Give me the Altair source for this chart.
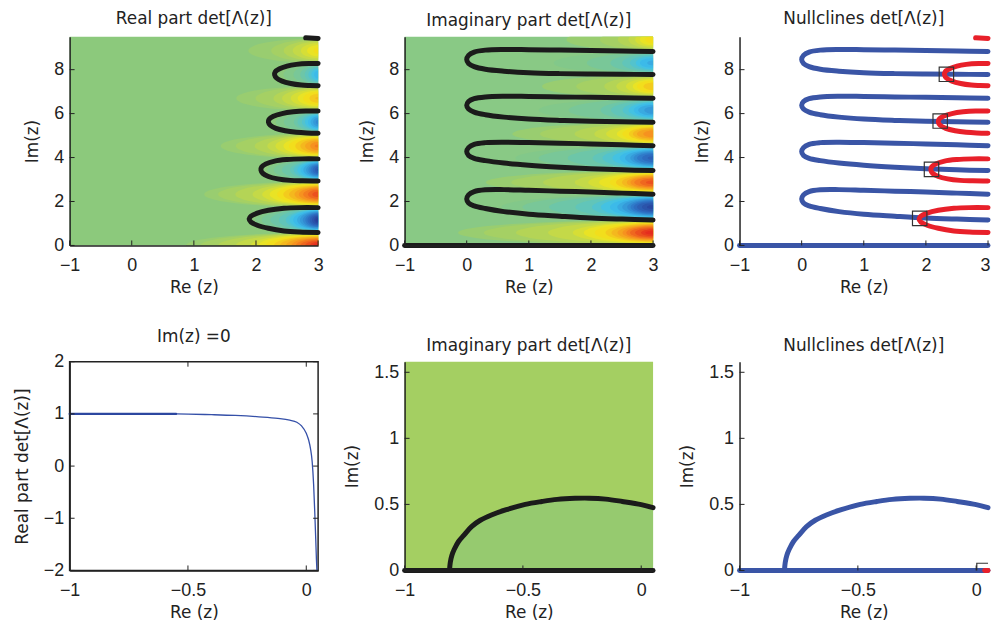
import altair as alt
import numpy as np
import pandas as pd

# ---------------- axes / text ----------------
TOP_X_DOMAIN = [-1, 3]
TOP_Y_DOMAIN = [0, 9.5]
TOP_X_TICKS = [-1, 0, 1, 2, 3]
TOP_Y_TICKS = [0, 2, 4, 6, 8]
BOT_X_DOMAIN = [-1, 0.05]
BOT_X_TICKS = [-1, -0.5, 0]
LINE_Y_DOMAIN = [-2, 2]
LINE_Y_TICKS = [-2, -1, 0, 1, 2]
BOT_Y_DOMAIN = [0, 1.58]
BOT_Y_TICKS = [0, 0.5, 1, 1.5]

TITLES = ["Real part det[Λ(z)]", "Imaginary part det[Λ(z)]", "Nullclines det[Λ(z)]",
          "Im(z) =0", "Imaginary part det[Λ(z)]", "Nullclines det[Λ(z)]"]
X_TITLE = "Re (z)"
Y_TITLE = "Im(z)"
LINE_Y_TITLE = "Real part det[Λ(z)]"

# ---------------- Re det = 0 contours (top row) ----------------
RE_A_X = [3.0, 2.7, 2.45, 2.2, 2.02, 1.92, 1.89, 1.92, 2.02, 2.2, 2.45, 2.7, 3.0]
RE_A_Y = [1.72, 1.72, 1.69, 1.6, 1.47, 1.33, 1.21, 1.06, 0.92, 0.78, 0.66, 0.61, 0.59]
RE_B_X = [3.0, 2.75, 2.5, 2.3, 2.16, 2.09, 2.08, 2.11, 2.2, 2.35, 2.55, 2.75, 3.0]
RE_B_Y = [3.94, 3.94, 3.91, 3.84, 3.71, 3.56, 3.43, 3.28, 3.14, 3.03, 2.96, 2.94, 2.93]
RE_C_X = [3.0, 2.8, 2.6, 2.42, 2.28, 2.21, 2.2, 2.23, 2.32, 2.47, 2.65, 2.82, 3.0]
RE_C_Y = [6.12, 6.12, 6.08, 6.0, 5.88, 5.74, 5.61, 5.47, 5.33, 5.22, 5.15, 5.12, 5.11]
RE_D_X = [3.0, 2.85, 2.65, 2.5, 2.38, 2.31, 2.3, 2.33, 2.42, 2.56, 2.73, 2.87, 3.0]
RE_D_Y = [8.28, 8.28, 8.24, 8.16, 8.04, 7.9, 7.76, 7.62, 7.48, 7.37, 7.3, 7.28, 7.27]
RE_E_X = [2.8, 3.0]
RE_E_Y = [9.45, 9.42]

# ---------------- Im det = 0 contours (top row) ----------------
IM_ZERO_X = [-1.0, 3.0]
IM_ZERO_Y = [0.0, 0.0]
IM_A_X = [3.0, 2.5, 2.0, 1.5, 1.0, 0.6, 0.3, 0.12, 0.03, 0.0, 0.03, 0.12, 0.3, 0.6, 1.0, 1.5, 2.0, 2.5, 3.0]
IM_A_Y = [2.33, 2.38, 2.43, 2.47, 2.51, 2.54, 2.53, 2.45, 2.3, 2.11, 1.93, 1.8, 1.68, 1.54, 1.42, 1.33, 1.25, 1.2, 1.16]
IM_B_X = [3.0, 2.5, 2.0, 1.5, 1.0, 0.6, 0.3, 0.12, 0.03, 0.0, 0.03, 0.12, 0.3, 0.6, 1.0, 1.5, 2.0, 2.5, 3.0]
IM_B_Y = [4.54, 4.58, 4.62, 4.65, 4.68, 4.7, 4.68, 4.6, 4.45, 4.27, 4.09, 3.96, 3.86, 3.75, 3.65, 3.56, 3.49, 3.44, 3.41]
IM_C_X = [3.0, 2.5, 2.0, 1.5, 1.0, 0.6, 0.3, 0.12, 0.03, 0.0, 0.03, 0.12, 0.3, 0.6, 1.0, 1.5, 2.0, 2.5, 3.0]
IM_C_Y = [6.7, 6.72, 6.74, 6.76, 6.78, 6.79, 6.76, 6.68, 6.55, 6.38, 6.21, 6.07, 5.95, 5.84, 5.75, 5.69, 5.65, 5.63, 5.61]
IM_D_X = [3.0, 2.5, 2.0, 1.5, 1.0, 0.6, 0.3, 0.12, 0.03, 0.0, 0.03, 0.12, 0.3, 0.6, 1.0, 1.5, 2.0, 2.5, 3.0]
IM_D_Y = [8.83, 8.85, 8.87, 8.89, 8.91, 8.92, 8.89, 8.8, 8.65, 8.46, 8.28, 8.14, 8.02, 7.93, 7.86, 7.82, 7.8, 7.79, 7.78]

# zeros of det (squares)
ZERO_TOP_X = [1.9, 2.09, 2.23, 2.33]
ZERO_TOP_Y = [1.23, 3.46, 5.66, 7.79]

# ---------------- heat-map blobs (top row) ----------------
RE_BLOB_Y = [0.0, 1.155, 2.325, 3.435, 4.525, 5.615, 6.695, 7.775, 8.865]
RE_BLOB_AMP = [1.0, -1.0, 0.9, -0.85, 0.72, -0.6, 0.5, -0.42, 0.38]
RE_BLOB_HALF = [0.59, 0.565, 0.6, 0.5, 0.59, 0.5, 0.58, 0.5, 0.58]
RE_BLOB_REACH = [0.7, 1.9, 1.0, 2.1, 1.25, 2.22, 1.45, 2.32, 1.6]
IM_BLOB_Y = [0.58, 1.745, 2.87, 3.975, 5.075, 6.155, 7.24, 8.305, 9.37]
IM_BLOB_AMP = [1.0, -0.95, 0.88, -0.8, 0.7, -0.55, 0.48, -0.45, 0.4]
IM_BLOB_HALF = [0.58, 0.585, 0.54, 0.565, 0.535, 0.545, 0.54, 0.525, 0.55]
IM_BLOB_REACH = [-0.45, 0.3, 0.0, 0.5, 0.4, 0.8, 0.8, 1.0, 1.2]

LEVELS = [0.03, 0.07, 0.12, 0.17, 0.23, 0.29, 0.35, 0.42, 0.49, 0.56, 0.63, 0.7, 0.77, 0.84, 0.91, 0.96]
G_R = [0, 0.1, 0.2, 0.4, 0.6, 0.8, 0.9, 1.0]
RE_G = [0, 0.25, 0.5, 0.68, 0.8, 0.89, 0.94, 0.98]
IM_G = [0, 0.3, 0.6, 0.77, 0.85, 0.9, 0.94, 0.98]
U_R = [0, 0.1, 0.3, 0.5, 0.7, 0.9, 1.0]
U_V = [1, 0.94, 0.81, 0.67, 0.51, 0.29, 0.05]
SHAPE_T = [0, 0.005, 0.02, 0.05, 0.1, 0.2, 0.35, 0.55, 0.8, 1.0, 1.08]
SHAPE_W = [0, 0.1, 0.2, 0.31, 0.44, 0.6, 0.76, 0.89, 0.98, 1.0, 1.0]

COLOR_VALUES = [-1, -0.667, -0.333, 0, 0.333, 0.667, 1]
COLOR_RANGE = ["#283A96", "#2E74C6", "#3DC1EC", "#8CC97C", "#F2E61C", "#F68B1F", "#E3231E"]

# ---------------- bottom row ----------------
LINE_X = [-1.0, -0.75, -0.55, -0.4, -0.3, -0.2, -0.12, -0.07, -0.04, -0.02, 0.0, 0.01, 0.018, 0.025,
          0.031, 0.036, 0.04, 0.043, 0.045]
LINE_Y = [1.0, 1.0, 1.0, 0.985, 0.97, 0.945, 0.915, 0.88, 0.84, 0.77, 0.63, 0.5, 0.33, 0.08,
          -0.35, -0.9, -1.4, -1.8, -2.0]
ARC_X = [-0.81, -0.807, -0.8, -0.79, -0.772, -0.75, -0.717, -0.68, -0.633, -0.57, -0.49, -0.42,
         -0.355, -0.28, -0.22, -0.15, -0.08, 0.0, 0.05]
ARC_Y = [0.0, 0.06, 0.115, 0.16, 0.219, 0.265, 0.332, 0.38, 0.42, 0.46, 0.5, 0.522,
         0.538, 0.546, 0.547, 0.54, 0.522, 0.498, 0.475]
BOT_ZERO_X = [-1.0, 0.05]
BOT_ZERO_Y = [0.0, 0.0]
RED_DOT_X = [0.036, 0.05]
RED_DOT_Y = [0.0, 0.0]
ZERO_BOT_X = [0.033]
ZERO_BOT_Y = [0.0]

BLACK = "#1b1b1b"
BLUE = "#3A55A6"
RED = "#E8202A"
AXC = "#222222"
W, H = 250, 210

CSCALE = alt.Scale(domain=COLOR_VALUES, range=COLOR_RANGE, interpolate="rgb")


def curves_df(curves):
    rows = []
    for name, xs_, ys_ in curves:
        for i, (x, y) in enumerate(zip(xs_, ys_)):
            rows.append({"curve": name, "i": i, "x": x, "y": y})
    return pd.DataFrame(rows)


def blobs_df(centers, amps, halves, reaches, gvals):
    rows = []
    for b, (yc, a, h, reach) in enumerate(zip(centers, amps, halves, reaches)):
        s = 1 if a > 0 else -1
        for k, v in enumerate(LEVELS):
            if v >= abs(a):
                continue
            r = v / abs(a)
            xl = reach + (3 - reach) * float(np.interp(r, G_R, gvals))
            hm = h * float(np.interp(r, U_R, U_V))
            for t, w in zip(SHAPE_T, SHAPE_W):
                x = xl + (3 - xl) * t
                rows.append({"blob": b, "level": k, "x": x, "lo": yc - hm * w,
                             "hi": yc + hm * w, "val": s * (v + 0.012)})
    return pd.DataFrame(rows)


def sc(dom):
    return alt.Scale(domain=dom, nice=False, zero=False)


def xaxis(values, domain=True, last_right=None):
    kw = {}
    if last_right is not None:
        kw["labelAlign"] = {"condition": {"test": "datum.value == %g" % last_right, "value": "right"},
                            "value": "center"}
        kw["labelOffset"] = {"condition": {"test": "datum.value == %g" % last_right, "value": 2},
                             "value": 0}
    return alt.Axis(title=X_TITLE, values=values, format="~g", ticks=False, grid=False,
                    labelPadding=11, titlePadding=5, domain=domain, zindex=1,
                    labelFlush=False, **kw)


def yaxis(values, title=Y_TITLE, domain=True):
    return alt.Axis(title=title, values=values, format="~g", ticks=False, grid=False,
                    labelPadding=6, titlePadding=12, domain=domain, zindex=1, labelFlush=False)


def bg(xdom, ydom, color, xs, ys, xax, yax):
    df = pd.DataFrame({"x0": [xdom[0]], "x1": [xdom[1]], "y0": [ydom[0]], "y1": [ydom[1]]})
    return alt.Chart(df).mark_rect(color=color).encode(
        x=alt.X("x0:Q", scale=xs, axis=xax), x2="x1:Q",
        y=alt.Y("y0:Q", scale=ys, axis=yax), y2="y1:Q")


def blob_layers(df, xs, ys, xax, yax):
    out = []
    for k in range(len(LEVELS)):
        out.append(alt.Chart(df).transform_filter(alt.datum.level == k).mark_area(
            interpolate="monotone", clip=True).encode(
            x=alt.X("x:Q", scale=xs, axis=xax),
            y=alt.Y("lo:Q", scale=ys, axis=yax, stack=None), y2="hi:Q",
            color=alt.Color("val:Q", scale=CSCALE, legend=None),
            detail="blob:N"))
    return out


def curve_layer(df, color, xs, ys, xax, yax, width=5.0, interp="catmull-rom"):
    return alt.Chart(df).mark_line(color=color, strokeWidth=width, strokeCap="round",
                                   strokeJoin="round", interpolate=interp).encode(
        x=alt.X("x:Q", scale=xs, axis=xax), y=alt.Y("y:Q", scale=ys, axis=yax),
        detail="curve:N", order="i:Q")


def squares(xv, yv, xs, ys, xax, yax, clip=False):
    df = pd.DataFrame({"x": xv, "y": yv})
    return alt.Chart(df).mark_point(shape="square", filled=False, size=210, color="#333333",
                                    strokeWidth=1.2, opacity=1, clip=clip).encode(
        x=alt.X("x:Q", scale=xs, axis=xax), y=alt.Y("y:Q", scale=ys, axis=yax))


def ticks(xt, yt, xs, ys, xax, yax, box=False):
    dx = pd.DataFrame({"t": xt})
    dy = pd.DataFrame({"t": yt})
    out = [
        alt.Chart(dx).mark_rule(color=AXC, strokeWidth=1).encode(
            x=alt.X("t:Q", scale=xs, axis=xax), y=alt.value(H), y2=alt.value(H - 5)),
        alt.Chart(dy).mark_rule(color=AXC, strokeWidth=1).encode(
            y=alt.Y("t:Q", scale=ys, axis=yax), x=alt.value(0), x2=alt.value(5)),
    ]
    if box:
        out += [
            alt.Chart(dx).mark_rule(color=AXC, strokeWidth=1).encode(
                x=alt.X("t:Q", scale=xs, axis=xax), y=alt.value(0), y2=alt.value(5)),
            alt.Chart(dy).mark_rule(color=AXC, strokeWidth=1).encode(
                y=alt.Y("t:Q", scale=ys, axis=yax), x=alt.value(W), x2=alt.value(W - 5)),
        ]
    return out


def panel(layers, title):
    return alt.layer(*layers).properties(width=W, height=H, title=title)


re_curves = curves_df([("a", RE_A_X, RE_A_Y), ("b", RE_B_X, RE_B_Y), ("c", RE_C_X, RE_C_Y),
                       ("d", RE_D_X, RE_D_Y), ("e", RE_E_X, RE_E_Y)])
im_curves = curves_df([("z", IM_ZERO_X, IM_ZERO_Y), ("a", IM_A_X, IM_A_Y), ("b", IM_B_X, IM_B_Y),
                       ("c", IM_C_X, IM_C_Y), ("d", IM_D_X, IM_D_Y)])
im_loops = curves_df([("a", IM_A_X, IM_A_Y), ("b", IM_B_X, IM_B_Y),
                      ("c", IM_C_X, IM_C_Y), ("d", IM_D_X, IM_D_Y)])
im_zero = curves_df([("z", IM_ZERO_X, IM_ZERO_Y)])
re_blobs = blobs_df(RE_BLOB_Y, RE_BLOB_AMP, RE_BLOB_HALF, RE_BLOB_REACH, RE_G)
im_blobs = blobs_df(IM_BLOB_Y, IM_BLOB_AMP, IM_BLOB_HALF, IM_BLOB_REACH, IM_G)

xs_t, ys_t = sc(TOP_X_DOMAIN), sc(TOP_Y_DOMAIN)
xax_t, yax_t = xaxis(TOP_X_TICKS), yaxis(TOP_Y_TICKS)
xax_t3 = xaxis(TOP_X_TICKS, domain=False, last_right=TOP_X_TICKS[-1])

p1 = panel([bg(TOP_X_DOMAIN, TOP_Y_DOMAIN, "#8CC97C", xs_t, ys_t, xax_t, yax_t)]
           + blob_layers(re_blobs, xs_t, ys_t, xax_t, yax_t)
           + [curve_layer(re_curves, BLACK, xs_t, ys_t, xax_t, yax_t)]
           + ticks(TOP_X_TICKS, TOP_Y_TICKS, xs_t, ys_t, xax_t, yax_t), TITLES[0])

p2 = panel([bg(TOP_X_DOMAIN, TOP_Y_DOMAIN, "#89C985", xs_t, ys_t, xax_t, yax_t)]
           + blob_layers(im_blobs, xs_t, ys_t, xax_t, yax_t)
           + [curve_layer(im_curves, BLACK, xs_t, ys_t, xax_t, yax_t)]
           + ticks(TOP_X_TICKS, TOP_Y_TICKS, xs_t, ys_t, xax_t, yax_t), TITLES[1])

p3 = panel([curve_layer(im_zero, BLUE, xs_t, ys_t, xax_t3, yax_t),
            curve_layer(im_loops, BLUE, xs_t, ys_t, xax_t3, yax_t),
            curve_layer(re_curves, RED, xs_t, ys_t, xax_t3, yax_t),
            squares(ZERO_TOP_X, ZERO_TOP_Y, xs_t, ys_t, xax_t3, yax_t)]
           + ticks(TOP_X_TICKS, TOP_Y_TICKS, xs_t, ys_t, xax_t3, yax_t), TITLES[2])

xs_b = sc(BOT_X_DOMAIN)
ys_l = sc(LINE_Y_DOMAIN)
ys_b = sc(BOT_Y_DOMAIN)
xax_b = xaxis(BOT_X_TICKS)
xax_b6 = xaxis(BOT_X_TICKS, domain=False)
yax_l = yaxis(LINE_Y_TICKS, title=LINE_Y_TITLE)
yax_b = yaxis(BOT_Y_TICKS)

line_df = pd.DataFrame({"curve": "re", "i": range(len(LINE_X)), "x": LINE_X, "y": LINE_Y})
line_left = line_df[line_df["x"] <= -0.55]
p4 = panel([curve_layer(line_df, "#3550A8", xs_b, ys_l, xax_b, yax_l, width=1.3, interp="monotone"),
            curve_layer(line_left, "#2C47A0", xs_b, ys_l, xax_b, yax_l, width=2.2, interp="monotone")]
           + ticks(BOT_X_TICKS, LINE_Y_TICKS, xs_b, ys_l, xax_b, yax_l, box=True), TITLES[3]
           ).properties(view=alt.ViewBackground(stroke=AXC, strokeWidth=1.5))

arc_df = curves_df([("arc", ARC_X, ARC_Y)])
arc_fill = pd.DataFrame({"x": ARC_X, "y": ARC_Y, "y0": [0.0] * len(ARC_X)})
bz_df = curves_df([("z", BOT_ZERO_X, BOT_ZERO_Y)])
red_df = curves_df([("r", RED_DOT_X, RED_DOT_Y)])

p5 = panel([bg(BOT_X_DOMAIN, BOT_Y_DOMAIN, "#A4CF62", xs_b, ys_b, xax_b, yax_b),
            alt.Chart(arc_fill).mark_area(color="#96CA6F", interpolate="monotone").encode(
                x=alt.X("x:Q", scale=xs_b, axis=xax_b),
                y=alt.Y("y:Q", scale=ys_b, axis=yax_b, stack=None), y2="y0:Q"),
            curve_layer(arc_df, BLACK, xs_b, ys_b, xax_b, yax_b),
            curve_layer(bz_df, BLACK, xs_b, ys_b, xax_b, yax_b)]
           + ticks(BOT_X_TICKS, BOT_Y_TICKS, xs_b, ys_b, xax_b, yax_b), TITLES[4])

p6 = panel([curve_layer(bz_df, BLUE, xs_b, ys_b, xax_b6, yax_b),
            curve_layer(arc_df, BLUE, xs_b, ys_b, xax_b6, yax_b),
            curve_layer(red_df, RED, xs_b, ys_b, xax_b6, yax_b),
            squares(ZERO_BOT_X, ZERO_BOT_Y, xs_b, ys_b, xax_b6, yax_b, clip=True)]
           + ticks(BOT_X_TICKS, BOT_Y_TICKS, xs_b, ys_b, xax_b6, yax_b), TITLES[5])

chart = alt.concat(p1, p2, p3, p4, p5, p6, columns=3,
                   spacing=alt.RowColnumber(row=117, column=87), bounds="flush").properties(
    padding={"left": 4, "top": 0, "right": 0, "bottom": 0}
).configure_view(stroke=None).configure_axis(
    labelFont="Liberation Sans", labelFontSize=18, labelColor=AXC,
    titleFont="DejaVu Sans", titleFontSize=17, titleFontWeight="normal", titleColor=AXC,
    domainColor=AXC, domainWidth=1.5
).configure_title(
    font="DejaVu Sans", fontSize=17, fontWeight="normal", color=AXC, offset=7
)

chart.save("out.html", embed_options={"renderer": "svg", "actions": False})
